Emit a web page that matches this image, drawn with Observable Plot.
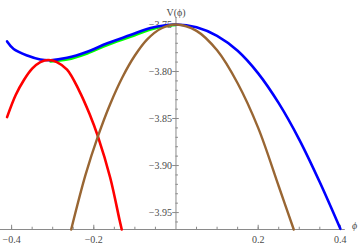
<!DOCTYPE html>
<html>
<head>
<meta charset="utf-8">
<script src="https://cdn.jsdelivr.net/npm/d3@7"></script>
<script src="https://cdn.jsdelivr.net/npm/@observablehq/plot@0.6"></script>
<style>
  html, body { margin: 0; padding: 0; background: #fff; }
  #chart svg { display: block; }
</style>
</head>
<body>
<div id="chart"></div>
<script>
// ---- data ----
const bluePhi = [-0.411, -0.395, -0.362, -0.33, -0.305, -0.265, -0.216, -0.167, -0.111, -0.062, 0, 0.05, 0.1, 0.15, 0.2, 0.25, 0.3, 0.35, 0.4];
const blueV   = [-3.768, -3.776, -3.783, -3.7872, -3.788, -3.7855, -3.779, -3.770, -3.7613, -3.7537, -3.75, -3.7529, -3.7621, -3.778, -3.802, -3.8337, -3.8724, -3.9178, -3.9673];

const greenPhi = [-0.305, -0.265, -0.216, -0.167, -0.111, -0.062, -0.025, 0];
const greenV   = [-3.7893, -3.7872, -3.7807, -3.7717, -3.763, -3.7552, -3.7515, -3.7505];

const redPhi = [-0.411, -0.39, -0.37, -0.35, -0.33, -0.31, -0.29, -0.265, -0.236, -0.21, -0.19, -0.16, -0.137, -0.132];
const redV   = [-3.8485, -3.825, -3.809, -3.797, -3.790, -3.7878, -3.790, -3.798, -3.820, -3.8455, -3.869, -3.913, -3.9585, -3.968];

const brownPhi = [-0.255, -0.22, -0.19, -0.16, -0.13, -0.1, -0.07, -0.035, 0, 0.05, 0.1, 0.15, 0.2, 0.25, 0.2866];
const brownV   = [-3.968, -3.9097, -3.869, -3.8345, -3.8058, -3.783, -3.7658, -3.754, -3.75, -3.7568, -3.7775, -3.8125, -3.86, -3.922, -3.968];

const xMajorTicks = [-0.4, -0.2, 0.2, 0.4];
const xMinorTicks = [-0.4, -0.35, -0.3, -0.25, -0.2, -0.15, -0.1, -0.05, 0.05, 0.1, 0.15, 0.2, 0.25, 0.3, 0.35, 0.4];
const yMajorTicks = [-3.75, -3.80, -3.85, -3.90, -3.95];
const yMinorTicks = [-3.76, -3.77, -3.78, -3.79, -3.81, -3.82, -3.83, -3.84, -3.86, -3.87, -3.88, -3.89, -3.91, -3.92, -3.93, -3.94, -3.96];

const xDomain = [-0.427, 0.412];
const yDomain = [-3.968, -3.7426];
const yBase = yDomain[0];

// ---- build tables ----
const zip = (xs, ys) => xs.map((x, i) => ({phi: x, V: ys[i]}));
const blue = zip(bluePhi, blueV);
const green = zip(greenPhi, greenV);
const red = zip(redPhi, redV);
const brown = zip(brownPhi, brownV);

const fmtX = d => (d < 0 ? "\u2212" : "") + Math.abs(d).toFixed(1);
const fmtY = d => (d < 0 ? "\u2212" : "") + Math.abs(d).toFixed(2);

const axisColor = "#8a8a8a";
const textColor = "#4a4a4a";
const font = "Liberation Serif, DejaVu Serif, serif";

const chart = Plot.plot({
  width: 360,
  height: 244,
  marginLeft: 0,
  marginRight: 15.2,
  marginTop: 17,
  marginBottom: 15,
  style: {fontFamily: font, background: "#fff"},
  x: {domain: xDomain, axis: null},
  y: {domain: yDomain, axis: null},
  marks: [
    // axes lines
    Plot.ruleY([yBase], {stroke: axisColor, strokeWidth: 1}),
    Plot.ruleX([0], {stroke: axisColor, strokeWidth: 1}),
    // x ticks (upward)
    Plot.ruleX(xMinorTicks, {x: d => d, y1: yBase, y2: yBase + 0.0024, stroke: axisColor}),
    Plot.ruleX(xMajorTicks, {x: d => d, y1: yBase, y2: yBase + 0.0045, stroke: axisColor}),
    // y ticks
    Plot.ruleY(yMinorTicks, {y: d => d, x1: 0, x2: 0.006, stroke: axisColor}),
    Plot.ruleY(yMajorTicks, {y: d => d, x1: -0.008, x2: 0.008, stroke: axisColor}),
    // tick labels
    Plot.text(xMajorTicks, {x: d => d, y: yBase, dy: 10, text: fmtX, fill: textColor, fontSize: 10, fontFamily: font}),
    Plot.text(yMajorTicks, {x: 0, y: d => d, dx: -4, textAnchor: "end", text: fmtY, fill: textColor, fontSize: 10, fontFamily: font}),
    // axis labels
    Plot.text(["V(\u03d5)"], {x: 0, frameAnchor: "top", dy: -9, fill: textColor, fontSize: 10, fontFamily: font}),
    Plot.text(["\u03d5"], {frameAnchor: "bottom-right", dx: 12, dy: -1, fill: textColor, fontSize: 10, fontStyle: "italic", fontFamily: font}),
    // curves
    Plot.line(green, {x: "phi", y: "V", stroke: "#00ff00", strokeWidth: 2.8, curve: "catmull-rom"}),
    Plot.line(blue, {x: "phi", y: "V", stroke: "#0000ff", strokeWidth: 2.6, curve: "catmull-rom"}),
    Plot.line(red, {x: "phi", y: "V", stroke: "#ff0000", strokeWidth: 2.6, curve: "catmull-rom"}),
    Plot.line(brown, {x: "phi", y: "V", stroke: "#996633", strokeWidth: 2.4, curve: "catmull-rom"})
  ]
});
document.getElementById("chart").appendChild(chart);
</script>
</body>
</html>
